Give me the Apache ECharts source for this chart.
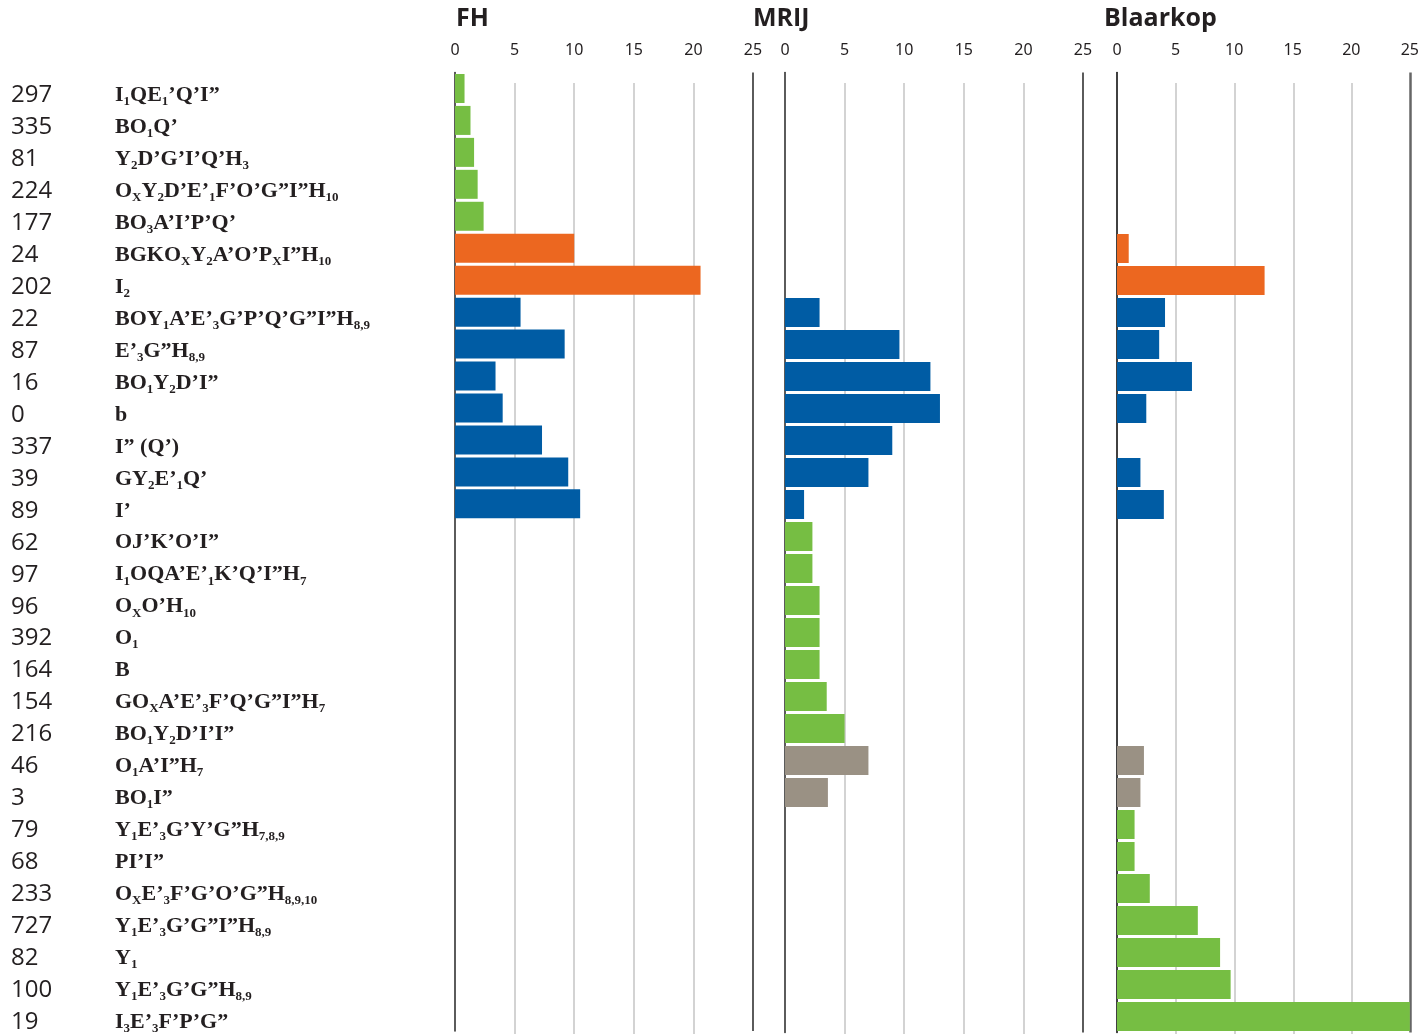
<!DOCTYPE html>
<html>
<head>
<meta charset="utf-8">
<script src="https://cdn.jsdelivr.net/npm/echarts@6/dist/echarts.min.js"></script>
<style>
html, body { margin: 0; padding: 0; background: #fff; }
#chart { width: 1422px; height: 1035px; }
</style>
</head>
<body>
<div id="chart"></div>
<script>
// row ids and labels ([..] = subscript)
var rowNumbers = ['297', '335', '81', '224', '177', '24', '202', '22', '87', '16',
    '0', '337', '39', '89', '62', '97', '96', '392', '164', '154',
    '216', '46', '3', '79', '68', '233', '727', '82', '100', '19'];
var rowLabels = [
    'I[1]QE[1]’Q’I”', 'BO[1]Q’', 'Y[2]D’G’I’Q’H[3]', 'O[X]Y[2]D’E’[1]F’O’G”I”H[10]', 'BO[3]A’I’P’Q’',
    'BGKO[X]Y[2]A’O’P[X]I”H[10]', 'I[2]', 'BOY[1]A’E’[3]G’P’Q’G”I”H[8,9]', 'E’[3]G”H[8,9]', 'BO[1]Y[2]D’I”',
    'b', 'I” (Q’)', 'GY[2]E’[1]Q’', 'I’', 'OJ’K’O’I”',
    'I[1]OQA’E’[1]K’Q’I”H[7]', 'O[X]O’H[10]', 'O[1]', 'B', 'GO[X]A’E’[3]F’Q’G”I”H[7]',
    'BO[1]Y[2]D’I’I”', 'O[1]A’I”H[7]', 'BO[1]I”', 'Y[1]E’[3]G’Y’G”H[7,8,9]', 'PI’I”',
    'O[X]E’[3]F’G’O’G”H[8,9,10]', 'Y[1]E’[3]G’G”I”H[8,9]', 'Y[1]', 'Y[1]E’[3]G’G”H[8,9]', 'I[3]E’[3]F’P’G”'
];
var rowGroups = ['green', 'green', 'green', 'green', 'green', 'orange', 'orange', 'blue', 'blue', 'blue',
    'blue', 'blue', 'blue', 'blue', 'green', 'green', 'green', 'green', 'green', 'green',
    'green', 'grey', 'grey', 'green', 'green', 'green', 'green', 'green', 'green', 'green'];

var fhValues = [0.8, 1.3, 1.6, 1.9, 2.4, 10.0, 20.6, 5.5, 9.2, 3.4,
    4.0, 7.3, 9.5, 10.5, null, null, null, null, null, null,
    null, null, null, null, null, null, null, null, null, null];
var mrijValues = [null, null, null, null, null, null, null, 2.9, 9.6, 12.2,
    13.0, 9.0, 7.0, 1.6, 2.3, 2.3, 2.9, 2.9, 2.9, 3.5,
    5.0, 7.0, 3.6, null, null, null, null, null, null, null];
var blaarkopValues = [null, null, null, null, null, 1.0, 12.6, 4.1, 3.6, 6.4,
    2.5, null, 2.0, 4.0, null, null, null, null, null, null,
    null, 2.3, 2.0, 1.5, 1.5, 2.8, 6.9, 8.8, 9.7, 25];

var panelTitles = ['FH', 'MRIJ', 'Blaarkop'];
var axisMin = 0, axisMax = 25, axisStep = 5;

var groupColors = { green: '#76be43', orange: '#ec6720', blue: '#005ca4', grey: '#9a9184' };

// panel geometry
var panels = [
    { left: 455, width: 298, titleLeft: 456, values: fhValues },
    { left: 785, width: 298, titleLeft: 753, values: mrijValues },
    { left: 1117, width: 294, titleLeft: 1104, values: blaarkopValues }
];
var gridTop = 72.5;
var gridHeight = 960;

function toRich(label) {
    var parts = label.split(/(\[[^\]]*\])/);
    var out = '';
    for (var i = 0; i < parts.length; i++) {
        var p = parts[i];
        if (!p) continue;
        if (p.charAt(0) === '[') {
            out += '{s|' + p.slice(1, -1) + '}';
        } else {
            out += '{m|' + p + '}';
        }
    }
    return out;
}

function barData(values) {
    var data = [];
    for (var i = 0; i < values.length; i++) {
        data.push({
            value: values[i],
            itemStyle: { color: groupColors[rowGroups[i]] }
        });
    }
    return data;
}

var chartDom = echarts.init(document.getElementById('chart'));

var grids = [], xAxes = [], yAxes = [], series = [], titles = [];

panels.forEach(function (p, idx) {
    var lastColor = idx === 2 ? '#666666' : '#333333';
    grids.push({ left: p.left, width: p.width, top: gridTop, height: gridHeight });
    xAxes.push({
        gridIndex: idx,
        type: 'value',
        position: 'top',
        min: axisMin,
        max: axisMax,
        interval: axisStep,
        axisLine: { show: false },
        axisTick: { show: false },
        axisLabel: {
            margin: 14,
            fontFamily: 'Noto Sans',
            fontSize: 16,
            color: '#231f20'
        },
        splitLine: {
            show: true,
            lineStyle: {
                width: idx === 2 ? 2.5 : 1.6,
                color: ['rgba(0,0,0,0)', 'rgba(0,0,0,0)', 'rgba(0,0,0,0)', 'rgba(0,0,0,0)', 'rgba(0,0,0,0)', lastColor]
            }
        }
    });
    yAxes.push({
        gridIndex: idx,
        type: 'category',
        inverse: true,
        data: rowLabels,
        axisTick: { show: false },
        axisLine: { show: true, lineStyle: { color: idx === 2 ? '#111' : '#333', width: 1.6 } },
        axisLabel: idx === 0 ? {
            show: true,
            interval: 0,
            align: 'left',
            margin: p.left - 11,
            padding: [14, 0, 0, 0],
            formatter: function (value, i) {
                return '{n|' + rowNumbers[i] + '}' + toRich(value);
            },
            rich: {
                n: { fontFamily: 'Open Sans', fontSize: 24, color: '#231f20', width: 104, align: 'left', lineHeight: 26 },
                m: { fontFamily: 'Liberation Serif', fontWeight: 'bold', fontSize: 22, color: '#231f20', lineHeight: 26 },
                s: { fontFamily: 'Liberation Serif', fontWeight: 'bold', fontSize: 13, color: '#231f20', lineHeight: 13, verticalAlign: 'bottom' }
            }
        } : { show: false }
    });
    series.push({
        type: 'bar',
        xAxisIndex: idx,
        yAxisIndex: idx,
        barWidth: 29,
        data: barData(p.values),
        z: 3
    });
    titles.push({
        text: panelTitles[idx],
        left: p.titleLeft,
        top: 6,
        padding: 0,
        textStyle: { fontFamily: 'Open Sans', fontWeight: 'bold', fontSize: 25, color: '#231f20' }
    });
});

// light grid lines start a little lower than the dark frame lines
panels.forEach(function (p, idx) {
    var g = grids.length;
    grids.push({ left: p.left, width: p.width, top: 83, bottom: 1 });
    xAxes.push({
        gridIndex: g,
        type: 'value',
        position: 'top',
        min: axisMin,
        max: axisMax,
        interval: axisStep,
        axisLine: { show: false },
        axisTick: { show: false },
        axisLabel: { show: false },
        splitLine: {
            show: true,
            lineStyle: {
                width: 1.6,
                color: ['rgba(0,0,0,0)', '#c8c8c8', '#c8c8c8', '#c8c8c8', '#c8c8c8', 'rgba(0,0,0,0)']
            }
        }
    });
    yAxes.push({ gridIndex: g, type: 'category', data: rowLabels, show: false });
});

var chartOptions = {
    animation: false,
    backgroundColor: '#ffffff',
    title: titles,
    grid: grids,
    xAxis: xAxes,
    yAxis: yAxes,
    series: series
};

chartDom.setOption(chartOptions, true);
</script>
</body>
</html>
